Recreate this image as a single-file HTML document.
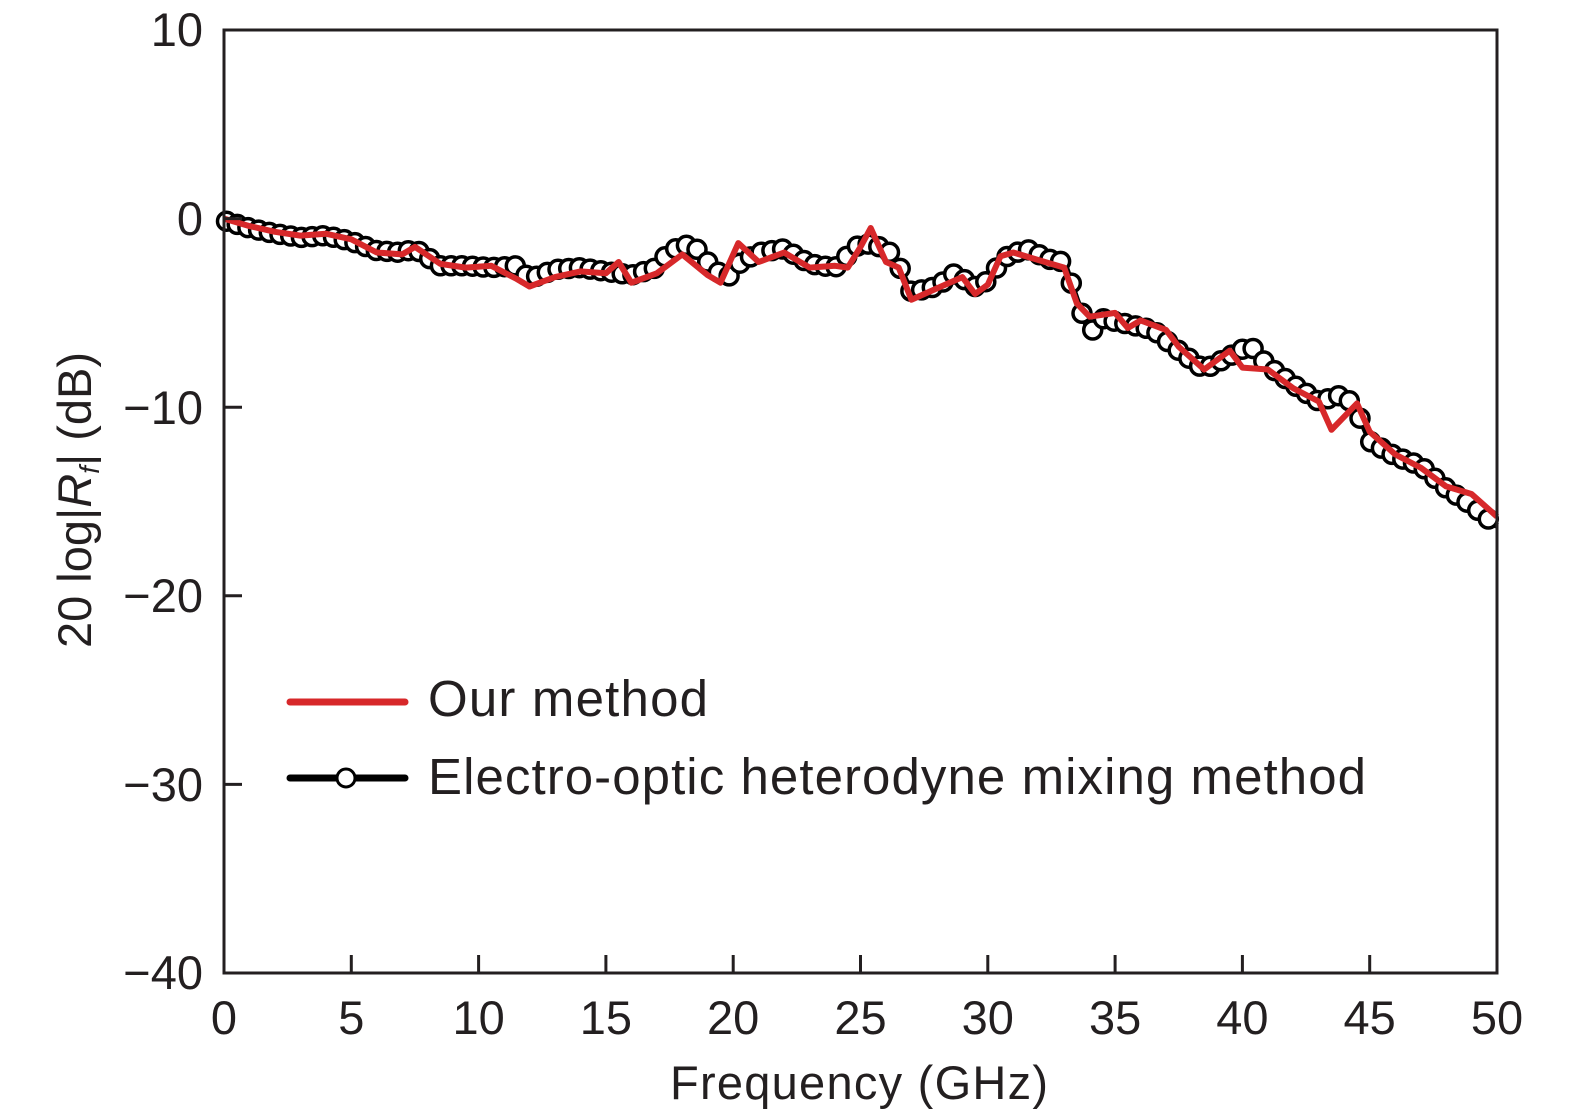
<!DOCTYPE html>
<html><head><meta charset="utf-8">
<style>html,body{margin:0;padding:0;background:#fff;overflow:hidden;width:1575px;height:1120px}svg{display:block}</style>
</head><body>
<svg id="s" width="1575" height="1120" viewBox="0 0 1575 1120" xmlns="http://www.w3.org/2000/svg" font-family="Liberation Sans, sans-serif" fill="#231f20">
<g id="data"></g>
<rect x="224" y="30" width="1273" height="943" fill="none" stroke="#231f20" stroke-width="3"/>
<g stroke="#231f20" stroke-width="3">
<line x1="351.3" y1="973" x2="351.3" y2="955"/><line x1="478.6" y1="973" x2="478.6" y2="955"/>
<line x1="605.9" y1="973" x2="605.9" y2="955"/><line x1="733.2" y1="973" x2="733.2" y2="955"/>
<line x1="860.5" y1="973" x2="860.5" y2="955"/><line x1="987.8" y1="973" x2="987.8" y2="955"/>
<line x1="1115.1" y1="973" x2="1115.1" y2="955"/><line x1="1242.4" y1="973" x2="1242.4" y2="955"/>
<line x1="1369.7" y1="973" x2="1369.7" y2="955"/>
<line x1="224" y1="218.6" x2="242" y2="218.6"/><line x1="224" y1="407.2" x2="242" y2="407.2"/>
<line x1="224" y1="595.8" x2="242" y2="595.8"/><line x1="224" y1="784.4" x2="242" y2="784.4"/>
</g>
<g font-size="47" text-anchor="end">
<text x="203" y="46">10</text><text x="203" y="235">0</text>
<text x="203" y="424">−10</text><text x="203" y="612">−20</text><text x="203" y="801">−30</text><text x="203" y="989">−40</text>
</g>
<g font-size="47" text-anchor="middle">
<text x="224" y="1034">0</text><text x="351.3" y="1034">5</text><text x="478.6" y="1034">10</text>
<text x="605.9" y="1034">15</text><text x="733.2" y="1034">20</text><text x="860.5" y="1034">25</text>
<text x="987.8" y="1034">30</text><text x="1115.1" y="1034">35</text><text x="1242.4" y="1034">40</text>
<text x="1369.7" y="1034">45</text><text x="1497" y="1034">50</text>
</g>
<text x="859" y="1099" font-size="47" text-anchor="middle" textLength="378">Frequency (GHz)</text>
<text transform="translate(91,500) rotate(-90)" font-size="47" text-anchor="middle">20 log|<tspan font-style="italic">R</tspan><tspan font-style="italic" font-size="28" dy="8">f</tspan><tspan dy="-8">| (dB)</tspan></text>
<line x1="290" y1="702" x2="405" y2="702" stroke="#d7282a" stroke-width="7" stroke-linecap="round"/>
<text x="428" y="716" font-size="51" textLength="280">Our method</text>
<line x1="290" y1="778" x2="405" y2="778" stroke="#000" stroke-width="7" stroke-linecap="round"/>
<circle cx="346" cy="778" r="9" fill="#fff" stroke="#000" stroke-width="3"/>
<text x="428" y="794" font-size="51" textLength="938">Electro-optic heterodyne mixing method</text>
</svg>
<script>
var red=[[0,0],[1,-0.4],[2,-0.7],[3,-0.9],[4,-0.8],[5,-1.1],[6,-1.8],[7,-1.9],[7.5,-1.5],[8.5,-2.4],[9.5,-2.6],[10.5,-2.5],[11.5,-3.2],[12,-3.6],[13,-3.1],[14,-2.8],[15,-2.9],[15.5,-2.3],[16,-3.4],[17,-2.9],[18,-1.9],[19,-3.0],[19.5,-3.4],[20.2,-1.3],[21,-2.3],[22,-1.8],[23,-2.6],[24,-2.5],[24.5,-2.6],[25,-1.5],[25.4,-0.5],[26,-2.3],[26.5,-2.6],[27,-4.3],[28,-3.7],[29,-3.1],[29.5,-4.0],[30,-3.5],[30.5,-2.0],[31,-1.8],[32,-2.2],[33,-2.6],[33.5,-4.5],[34,-5.2],[35,-5.0],[35.5,-5.8],[36,-5.4],[37,-5.9],[37.5,-6.8],[38.5,-8.0],[39.5,-7.0],[40,-7.9],[41,-8.0],[42,-9.0],[43,-9.7],[43.5,-11.2],[44.5,-9.8],[45,-11.3],[46,-12.5],[47,-13.2],[48,-14.2],[49,-14.6],[50,-15.8]];
var blk=[[0,-0.1],[1,-0.5],[2,-0.8],[3,-1.0],[4,-0.9],[5,-1.2],[6,-1.7],[7,-1.8],[7.5,-1.6],[8.5,-2.5],[9.5,-2.5],[10.5,-2.6],[11.5,-2.5],[12,-3.2],[13,-2.7],[14,-2.6],[15,-2.8],[16,-3.0],[17,-2.6],[17.5,-1.7],[18.2,-1.4],[18.7,-1.7],[19.2,-2.7],[19.8,-3.1],[20.3,-2.3],[21,-1.8],[22,-1.6],[23,-2.4],[24,-2.6],[25,-1.3],[25.6,-1.4],[26.3,-1.9],[27,-3.9],[28,-3.6],[28.7,-2.9],[29.5,-3.6],[30,-3.3],[30.6,-2.1],[31.5,-1.6],[32.5,-2.2],[33,-2.3],[33.5,-4.3],[34,-6.1],[34.5,-5.3],[35.5,-5.6],[36.5,-5.9],[37.5,-7.0],[38.5,-8.0],[39.5,-7.3],[40.3,-6.7],[41,-7.8],[42,-8.8],[43,-9.7],[44,-9.3],[44.5,-10.2],[45,-11.8],[46,-12.6],[47,-13.1],[48,-14.3],[49,-15.2],[50,-16.3]];
function X(f){return 224+f*25.46}function Y(d){return 218.6-d*18.86}
function path(a){return a.map(function(p,i){return(i?'L':'M')+X(p[0]).toFixed(1)+' '+Y(p[1]).toFixed(1)}).join('')}
function interp(a,f){for(var i=1;i<a.length;i++){if(f<=a[i][0]){var t=(f-a[i-1][0])/(a[i][0]-a[i-1][0]);return a[i-1][1]+t*(a[i][1]-a[i-1][1]);}}return a[a.length-1][1];}
var g=document.getElementById('data'),h='';
h+='<path d="'+path(blk)+'" fill="none" stroke="#000" stroke-width="6" stroke-linejoin="round"/>';
for(var f=0.1;f<=49.9;f+=0.42){var d=interp(blk,f);h+='<circle cx="'+X(f).toFixed(1)+'" cy="'+Y(d).toFixed(1)+'" r="9" fill="#fff" stroke="#000" stroke-width="3.5"/>';}
h+='<path d="'+path(red)+'" fill="none" stroke="#d7282a" stroke-width="6" stroke-linejoin="round"/>';
g.innerHTML=h;
</script>
</body></html>
